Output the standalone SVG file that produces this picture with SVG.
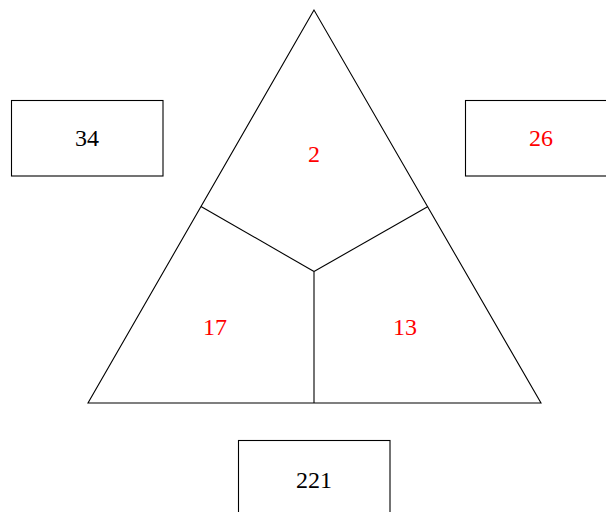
<svg xmlns="http://www.w3.org/2000/svg" width="606" height="512" viewBox="0 0 606 512">
<style>
.ln{fill:none;stroke:#000;stroke-width:1.1}
.t{font-family:"Liberation Serif","DejaVu Serif",serif;font-size:24px;text-anchor:middle;dominant-baseline:central}
.r{fill:#ff0000}
.k{fill:#000}
</style>
<rect width="606" height="512" fill="#fff"/>
<g id="triangle">
<polygon class="ln" points="314,10 88,403 541,403"/>
</g>
<g id="connectors">
<line class="ln" x1="201" y1="206.5" x2="314" y2="271.5"/>
<line class="ln" x1="428" y1="206.5" x2="314" y2="271.5"/>
<line class="ln" x1="314" y1="271.5" x2="314" y2="403"/>
</g>
<g id="region-top"><text class="t r" x="314" y="154">2</text></g>
<g id="region-left"><text class="t r" x="215" y="327">17</text></g>
<g id="region-right"><text class="t r" x="405" y="327">13</text></g>
<g id="box-34"><rect class="ln" x="11.5" y="100.5" width="151.5" height="75.5"/><text class="t k" x="87" y="138">34</text></g>
<g id="box-26"><rect class="ln" x="465.5" y="100.5" width="151.5" height="75.5"/><text class="t r" x="541" y="138">26</text></g>
<g id="box-221"><rect class="ln" x="238.5" y="440.5" width="151.5" height="75.5"/><text class="t k" x="314" y="480">221</text></g>
</svg>
